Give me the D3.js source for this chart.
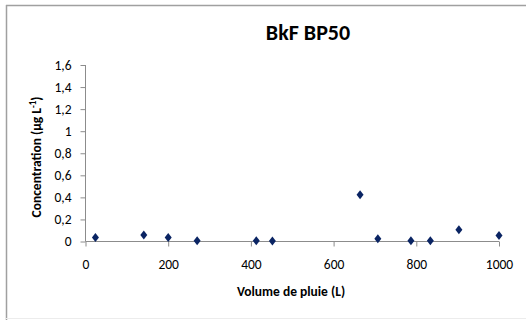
<!DOCTYPE html>
<html><head><meta charset="utf-8">
<script src="https://cdn.jsdelivr.net/npm/d3@7"></script>
<style>body{margin:0;background:#fff}svg{display:block}</style>
</head><body>
<script>
const volumes = [24, 141, 200, 270, 413, 452, 664, 707, 787, 834, 903, 1000];
const concentrations = [0.036, 0.058, 0.036, 0.006, 0.006, 0.005, 0.423, 0.024, 0.006, 0.006, 0.106, 0.054];
const xTicks = [0, 200, 400, 600, 800, 1000];
const yTicks = [0, 0.2, 0.4, 0.6, 0.8, 1, 1.2, 1.4, 1.6];
const title = "BkF BP50";
const xLabel = "Volume de pluie (L)";

const W = 526, H = 320;
const svg = d3.select("body").append("svg").attr("width", W).attr("height", H);
const font = "Carlito, Calibri, 'Open Sans', sans-serif";

// chart border
svg.append("line").attr("x1",6.5).attr("x2",6.5).attr("y1",5).attr("y2",320).attr("stroke","#a0a0a0").attr("stroke-width",1.5);
svg.append("line").attr("x1",6).attr("x2",526).attr("y1",5.5).attr("y2",5.5).attr("stroke","#a0a0a0").attr("stroke-width",1.5);
svg.append("line").attr("x1",6).attr("x2",526).attr("y1",318.5).attr("y2",318.5).attr("stroke","#ececec").attr("stroke-width",1);

const x = d3.scaleLinear().domain([0, 1000]).range([85.5, 499]);
const y = d3.scaleLinear().domain([0, 1.6]).range([241.5, 65]);

const fmt = d => d3.format("~g")(d).replace(".", ",");

const xAxis = svg.append("g").attr("transform", "translate(0,241.5)")
  .call(d3.axisBottom(x).tickValues(xTicks).tickSize(5).tickPadding(13).tickFormat(d => d));
const yAxis = svg.append("g").attr("transform", "translate(85.5,0)")
  .call(d3.axisLeft(y).tickValues(yTicks).tickSize(5).tickPadding(9).tickFormat(fmt));
[xAxis, yAxis].forEach(a => {
  a.selectAll("path,line").attr("stroke", "#8c8c8c");
  a.selectAll("text").attr("font-family", font).attr("font-size", 13.5).attr("fill", "#000");
});
xAxis.select(".domain").attr("d", "M85.5,0H499");
yAxis.select(".domain").attr("d", "M0,241.5V65");

svg.append("text").attr("x", 308).attr("y", 40).attr("text-anchor", "middle")
  .attr("font-family", font).attr("font-weight", "bold").attr("font-size", 22).text(title);

svg.append("text").attr("x", 291).attr("y", 296).attr("text-anchor", "middle")
  .attr("font-family", font).attr("font-weight", "bold").attr("font-size", 13.5).text(xLabel);

const yl = svg.append("text").attr("transform", "translate(41,157) rotate(-90)").attr("text-anchor", "middle")
  .attr("font-family", font).attr("font-weight", "bold").attr("font-size", 13.5);
yl.append("tspan").text("Concentration (µg L");
yl.append("tspan").attr("dy", -5).attr("font-size", 9).text("-1");
yl.append("tspan").attr("dy", 5).text(")");

svg.append("g").selectAll("path").data(volumes).join("path")
  .attr("d", "M0,-4.5L3.5,0L0,4.5L-3.5,0Z")
  .attr("transform", (d, i) => `translate(${x(d)},${y(concentrations[i])})`)
  .attr("fill", "#0a2463");
</script>
</body></html>
